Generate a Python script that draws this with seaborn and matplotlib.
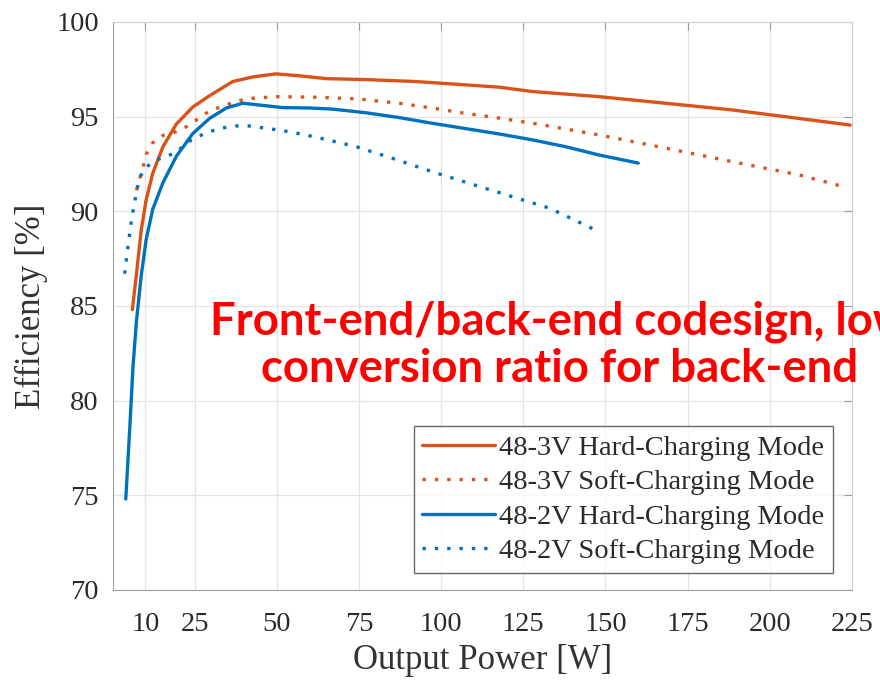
import numpy as np
import pandas as pd
import seaborn as sns
import matplotlib.pyplot as plt

# 48-3V hard-charging
hard3_x = [6.0, 7.2, 8.7, 10.2, 12.2, 15.3, 19.4, 24.4, 29.5, 36.6, 43, 49.7, 56.8, 65, 77, 92, 107.5, 117.6, 127.7, 148, 168.3, 188.5, 208.8, 224.5]
hard3_y = [84.8, 86.6, 89.0, 90.6, 92.0, 93.4, 94.6, 95.5, 96.1, 96.85, 97.1, 97.25, 97.15, 97.0, 96.95, 96.85, 96.67, 96.55, 96.32, 96.05, 95.7, 95.35, 94.9, 94.55]

# 48-3V soft-charging
soft3_x = [7.3, 8.0, 9.2, 10.2, 12.1, 15.3, 19.4, 22.9, 29.5, 37.6, 41.6, 49.7, 61.9, 74.6, 87.2, 99.4, 107.5, 115.6, 127.7, 148, 168.3, 188.5, 208.8, 221.5]
soft3_y = [91.1, 91.6, 92.3, 93.0, 93.6, 94.0, 94.2, 94.5, 95.3, 95.8, 95.95, 96.05, 96.02, 95.93, 95.7, 95.39, 95.16, 94.97, 94.65, 94.03, 93.33, 92.62, 91.92, 91.34]

# 48-2V hard-charging
hard2_x = [4.0, 5.2, 6.2, 7.2, 8.7, 10.2, 12.2, 15.3, 19.4, 24.4, 29.5, 34.6, 39.6, 45, 51.8, 60, 67, 77, 87, 97, 107.5, 117.6, 127.7, 138, 148, 160]
hard2_y = [74.8, 78.5, 81.8, 84.1, 86.6, 88.5, 90.1, 91.5, 92.9, 94.1, 94.9, 95.45, 95.7, 95.6, 95.47, 95.45, 95.39, 95.2, 94.95, 94.65, 94.36, 94.08, 93.77, 93.4, 92.97, 92.54]

# 48-2V soft-charging
soft2_x = [3.65, 4.65, 5.7, 6.4, 8.0, 9.7, 13.3, 19.4, 22.4, 25.9, 29.5, 33.5, 37.6, 41.6, 46.7, 53.8, 61.9, 74.1, 85, 97, 108, 121, 133, 148]
soft2_y = [86.7, 88.1, 89.5, 90.2, 91.65, 92.27, 92.7, 93.1, 93.6, 93.94, 94.2, 94.4, 94.5, 94.5, 94.38, 94.2, 93.91, 93.41, 92.8, 92.1, 91.5, 90.8, 90.16, 88.92]

labels = ["48-3V Hard-Charging Mode", "48-3V Soft-Charging Mode",
          "48-2V Hard-Charging Mode", "48-2V Soft-Charging Mode"]
xticks = [10, 25, 50, 75, 100, 125, 150, 175, 200, 225]
yticks = [70, 75, 80, 85, 90, 95, 100]

orange = "#D95319"
blue = "#0072BD"
dot = (0, (1, 2.7))

sns.set_style("white")
plt.rcParams["font.family"] = ["Liberation Serif", "DejaVu Serif"]

fig = plt.figure(figsize=(8.8, 6.82), dpi=100)
ax = fig.add_axes([0.128, 0.135, 0.840, 0.833])

series = [(hard3_x, hard3_y, orange, "-"),
          (soft3_x, soft3_y, orange, dot),
          (hard2_x, hard2_y, blue, "-"),
          (soft2_x, soft2_y, blue, dot)]
for (xs, ys, col, ls), lab in zip(series, labels):
    df = pd.DataFrame({"P": xs, "eff": ys})
    sns.lineplot(data=df, x="P", y="eff", ax=ax, color=col, linestyle=ls,
                 linewidth=2.4, label=lab, sort=False, estimator=None)

ax.set_xlim(0, 225)
ax.set_ylim(70, 100)
ax.set_xticks(xticks)
ax.set_yticks(yticks)
ax.grid(True, color="#e4e4e4", linewidth=0.9)
ax.tick_params(direction="in", length=6, color="#999999", labelsize=20.5,
               labelcolor="#2a2a2a", top=True, right=True)
ax.tick_params(axis="x", pad=16)
ax.tick_params(axis="y", pad=10)
for side in ["top", "right"]:
    ax.spines[side].set_color("#d0d0d0")
for side in ["left", "bottom"]:
    ax.spines[side].set_color("#a0a0a0")
ax.set_xlabel("Output Power [W]", fontsize=25, color="#333333", labelpad=5)
ax.set_ylabel("Efficiency [%]", fontsize=25, color="#333333", labelpad=6)

leg = ax.legend(loc="lower right", bbox_to_anchor=(0.974, 0.03), fontsize=20.5,
                frameon=True, fancybox=False, handlelength=2.55,
                handletextpad=0.15, labelspacing=0.3, borderpad=0.3,
                borderaxespad=0)
leg.get_frame().set_edgecolor("#444444")
leg.get_frame().set_linewidth(1.0)
for t in leg.get_texts():
    t.set_color("#2a2a2a")

fig.text(0.636, 0.494, "Front-end/back-end codesign, low\nconversion ratio for back-end",
         ha="center", va="center", multialignment="center", color="#ff0000",
         fontsize=32.8, fontweight="bold", family=["Lato", "DejaVu Sans"],
         linespacing=1.15)

fig.savefig("out.png", dpi=100)
